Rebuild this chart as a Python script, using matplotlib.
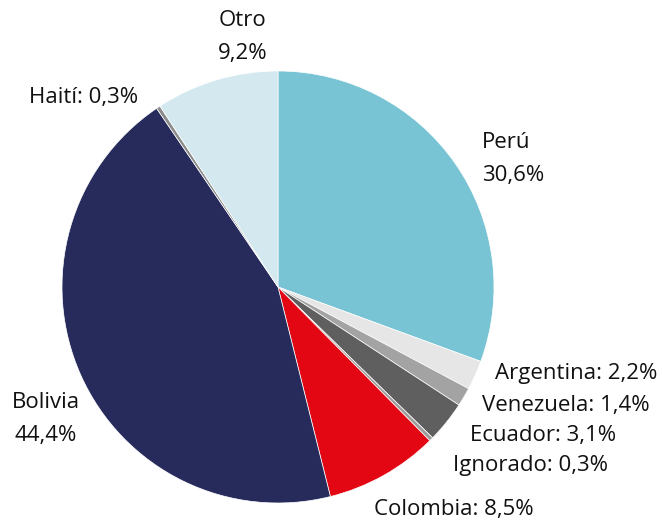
import matplotlib
matplotlib.use("Agg")
import matplotlib.pyplot as plt

categories = ["Perú", "Argentina", "Venezuela", "Ecuador", "Ignorado",
              "Colombia", "Bolivia", "Haití", "Otro"]
values = [30.6, 2.2, 1.4, 3.1, 0.3, 8.5, 44.4, 0.3, 9.2]
colors = ["#78C4D4", "#E6E6E6", "#A3A3A3", "#5F5F5F", "#9C9C9C",
          "#E30613", "#262B5B", "#8C8C8C", "#D3E8EF"]

plt.rcParams['font.family'] = ['Open Sans', 'DejaVu Sans']

W, H = 662, 521
cx, cy, R = 278, 287, 216
fig = plt.figure(figsize=(W / 100, H / 100), dpi=100)
ax = fig.add_axes([0, 0, 1, 1])
ax.pie(values, colors=colors, startangle=90, counterclock=False, radius=R,
       center=(0, 0), wedgeprops=dict(edgecolor="white", linewidth=0.5))
ax.set_xlim(-cx, W - cx)
ax.set_ylim(-(H - cy), cy)
ax.set_aspect("equal")
ax.axis("off")


def fmt(v):
    return f"{v:.1f}".replace(".", ",") + "%"


def px(x, y):
    return x - cx, cy - y


fs = 16
tc = "#111111"
# label layout (pixel positions)
layout = {
    "Perú": ("two", 482, 143, "left"),
    "Argentina": ("one", 657, 373, "right"),
    "Venezuela": ("one", 650, 405, "right"),
    "Ecuador": ("one", 616, 436, "right"),
    "Ignorado": ("one", 608, 466, "right"),
    "Colombia": ("one", 454, 510, "center"),
    "Bolivia": ("two", 46, 403, "center"),
    "Haití": ("one", 84, 98, "center"),
    "Otro": ("two", 243, 20, "center"),
}
for name, v in zip(categories, values):
    kind, x, y, ha = layout[name]
    if kind == "one":
        ax.text(*px(x, y), f"{name}: {fmt(v)}", ha=ha, va="center",
                fontsize=fs, color=tc)
    else:
        ax.text(*px(x, y), name, ha=ha, va="center", fontsize=fs, color=tc)
        ax.text(*px(x, y + 33), fmt(v), ha=ha, va="center", fontsize=fs, color=tc)

fig.savefig("out.png", dpi=100)
